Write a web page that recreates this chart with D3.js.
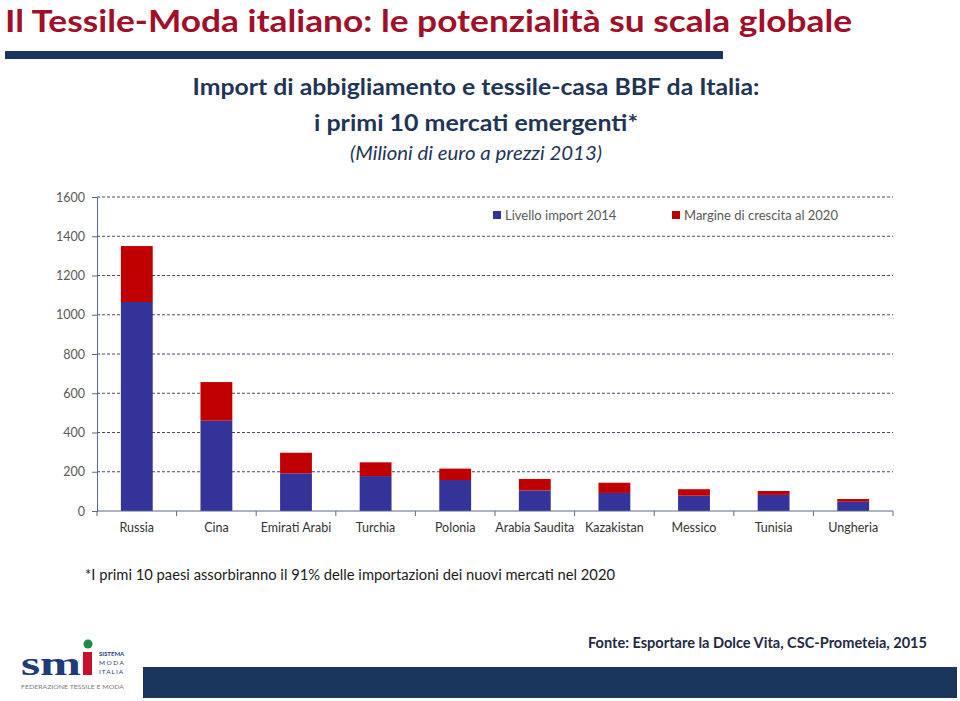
<!DOCTYPE html>
<html><head><meta charset="utf-8">
<script src="https://cdn.jsdelivr.net/npm/d3@7"></script>
<style>
body{margin:0;background:#fff;}
svg{display:block;font-family:Lato,"Open Sans",sans-serif;}
</style></head>
<body><svg id="c" width="960" height="701"></svg>
<script>
const categories = ["Russia","Cina","Emirati Arabi","Turchia","Polonia","Arabia Saudita","Kazakistan","Messico","Tunisia","Ungheria"];
const livello2014 = [1065, 460, 192, 178, 158, 105, 92, 78, 82, 47];
const totale2020 = [1350, 657, 297, 248, 216, 163, 144, 111, 102, 61];
const margine2020 = totale2020.map((t,i)=>t-livello2014[i]);
const yTicks = [0,200,400,600,800,1000,1200,1400,1600];
const seriesNames = ["Livello import 2014","Margine di crescita al 2020"];
const colors = ["#333399","#C00000"];

const svg = d3.select("#c");
const plot = {left:97,right:893,top:197,bottom:511};

// header
svg.append("text").attr("x",5).attr("y",32).attr("fill","#A0102A")
  .attr("font-size",31).attr("font-weight",700)
  .attr("textLength",847).attr("lengthAdjust","spacingAndGlyphs")
  .text("Il Tessile-Moda italiano: le potenzialità su scala globale");
svg.append("rect").attr("x",5).attr("y",51).attr("width",718).attr("height",8).attr("fill","#1B365D");

svg.append("text").attr("x",476).attr("y",95).attr("text-anchor","middle").attr("fill","#1F3556")
  .attr("font-size",23).attr("font-weight",700)
  .attr("textLength",567).attr("lengthAdjust","spacingAndGlyphs")
  .text("Import di abbigliamento e tessile-casa BBF da Italia:");
svg.append("text").attr("x",476).attr("y",131).attr("text-anchor","middle").attr("fill","#1F3556")
  .attr("font-size",23).attr("font-weight",700)
  .attr("textLength",324).attr("lengthAdjust","spacingAndGlyphs")
  .text("i primi 10 mercati emergenti*");
svg.append("text").attr("x",476).attr("y",160).attr("text-anchor","middle").attr("fill","#1F3556")
  .attr("font-size",18.5).attr("font-style","italic")
  .attr("textLength",252).attr("lengthAdjust","spacingAndGlyphs")
  .text("(Milioni di euro a prezzi 2013)");

// scales
const x = d3.scaleBand().domain(categories).range([plot.left,plot.right]).paddingInner(0.6).paddingOuter(0.3);
const y = d3.scaleLinear().domain([0,1600]).range([plot.bottom,plot.top]);

// gridlines
const g = svg.append("g");
g.selectAll("line.grid").data(yTicks.filter(d=>d>0)).join("line")
  .attr("x1",plot.left).attr("x2",plot.right).attr("y1",d=>y(d)).attr("y2",d=>y(d))
  .attr("stroke","#3F4F70").attr("stroke-width",1).attr("stroke-dasharray","3,2");

// y axis
const yAxis = d3.axisLeft(y).tickValues(yTicks).tickSize(5).tickPadding(7).tickFormat(d3.format("d"));
const ya = svg.append("g").attr("transform",`translate(${plot.left},0)`).call(yAxis);
ya.select(".domain").attr("stroke","#5B6B8A");
ya.selectAll(".tick line").attr("stroke","#5B6B8A");
ya.selectAll(".tick text").attr("fill","#595959").attr("font-size",12.5).attr("font-family","Lato,sans-serif");

// stacked bars
const rows = categories.map((c,i)=>({cat:c,a:livello2014[i],b:margine2020[i]}));
const stack = d3.stack().keys(["a","b"])(rows);
svg.append("g").selectAll("g").data(stack).join("g").attr("fill",(d,i)=>colors[i])
  .selectAll("rect").data(d=>d).join("rect")
  .attr("x",d=>x(d.data.cat)).attr("width",x.bandwidth())
  .attr("y",d=>y(d[1])).attr("height",d=>y(d[0])-y(d[1]));

// x axis
const xa = svg.append("g").attr("transform",`translate(0,${plot.bottom})`);
xa.append("line").attr("x1",plot.left).attr("x2",plot.right).attr("stroke","#5B6B8A");
const bounds = d3.range(categories.length+1).map(i=>plot.left + i*(plot.right-plot.left)/categories.length);
xa.selectAll("line.t").data(bounds).join("line").attr("class","t")
  .attr("x1",d=>d).attr("x2",d=>d).attr("y1",0).attr("y2",5).attr("stroke","#5B6B8A");
xa.selectAll("text").data(categories).join("text")
  .attr("x",d=>x(d)+x.bandwidth()/2).attr("y",21).attr("text-anchor","middle")
  .attr("fill","#333333").attr("font-size",12.5).text(d=>d);

// legend
const leg = svg.append("g");
const legX = [493,672];
seriesNames.forEach((n,i)=>{
  leg.append("rect").attr("x",legX[i]).attr("y",211).attr("width",8).attr("height",8).attr("fill",colors[i]);
  leg.append("text").attr("x",legX[i]+12).attr("y",220).attr("fill","#595959").attr("font-size",13).text(n);
});

// footnote
svg.append("text").attr("x",85).attr("y",580).attr("fill","#1a1a1a").attr("font-size",15.5)
  .attr("textLength",530).attr("lengthAdjust","spacingAndGlyphs")
  .text("*I primi 10 paesi assorbiranno il 91% delle importazioni dei nuovi mercati nel 2020");
svg.append("text").attr("x",588).attr("y",648).attr("fill","#1F2A44").attr("font-size",15.5).attr("font-weight",700)
  .attr("textLength",339).attr("lengthAdjust","spacingAndGlyphs")
  .text("Fonte: Esportare la Dolce Vita, CSC-Prometeia, 2015");

// bottom band
svg.append("rect").attr("x",143).attr("y",667).attr("width",814).attr("height",31).attr("fill","#1B365D");

// logo
const lg = svg.append("g");
lg.append("text").attr("x",21).attr("y",675).attr("fill","#1F3C7A").attr("font-size",34)
  .attr("font-family","'Liberation Serif',serif").attr("font-weight",700)
  .attr("textLength",60).attr("lengthAdjust","spacingAndGlyphs").text("sm");
lg.append("rect").attr("x",83).attr("y",652).attr("width",9).attr("height",23).attr("fill","#C8102E");
lg.append("circle").attr("cx",88).attr("cy",644).attr("r",4.5).attr("fill","#1E8A4A");
lg.append("text").attr("x",99).attr("y",656).attr("fill","#1F3C7A").attr("font-size",6).attr("font-weight",700).text("SISTEMA");
lg.append("text").attr("x",99).attr("y",665).attr("fill","#1F3C7A").attr("font-size",6.5).attr("letter-spacing",1.5).text("MODA");
lg.append("text").attr("x",99).attr("y",674).attr("fill","#1F3C7A").attr("font-size",6.5).attr("letter-spacing",1).text("ITALIA");
lg.append("text").attr("x",21).attr("y",689).attr("fill","#7a7a7a").attr("font-size",6.5)
  .attr("textLength",103).attr("lengthAdjust","spacingAndGlyphs").text("FEDERAZIONE TESSILE E MODA");
</script></body></html>
